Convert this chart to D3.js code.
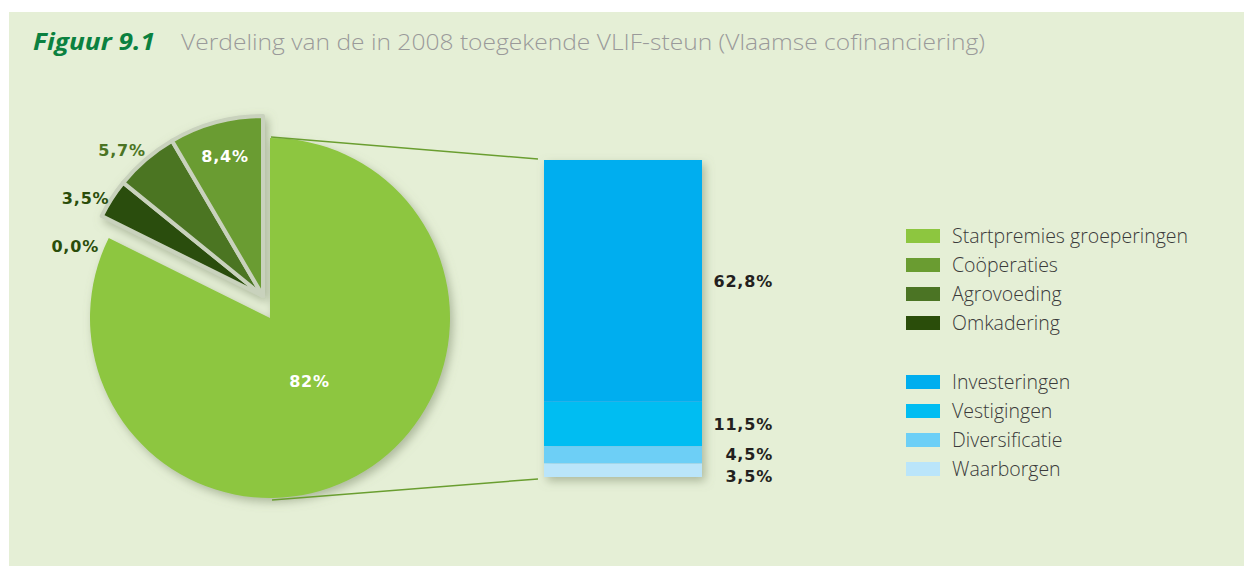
<!DOCTYPE html>
<html>
<head>
<meta charset="utf-8">
<script src="https://cdn.jsdelivr.net/npm/d3@7"></script>
<style>
  body { margin: 0; background: #fff; }
  svg { display: block; }
</style>
</head>
<body>
<svg id="chart" width="1244" height="567"></svg>
<script>
// pie: VLIF-steun per type
let pieNames = ["Startpremies groeperingen", "", "Omkadering", "Agrovoeding", "Coöperaties"];
let pieValues = [82, 0.0, 3.5, 5.7, 8.4];
let pieLabels = ["82%", "0,0%", "3,5%", "5,7%", "8,4%"];
let pieColors = ["#8dc63f", "#2a4d0a", "#2a4d0a", "#4b7424", "#6a9c31"];

// stacked bar: breakdown of the big slice
let barNames = ["Investeringen", "Vestigingen", "Diversificatie", "Waarborgen"];
let barValues = [62.8, 11.5, 4.5, 3.5];
let barLabels = ["62,8%", "11,5%", "4,5%", "3,5%"];
let barColors = ["#00aeef", "#00bdf2", "#6dcff6", "#bae5fa"];

let legendNames = ["Startpremies groeperingen", "Coöperaties", "Agrovoeding", "Omkadering"];
let legendColors = ["#8dc63f", "#6a9c31", "#4b7424", "#2a4d0a"];

let svg = d3.select("#chart");

let defs = svg.append("defs");
let shadow = defs.append("filter").attr("id", "shadow")
    .attr("x", "-20%").attr("y", "-20%").attr("width", "140%").attr("height", "140%");
shadow.append("feDropShadow")
    .attr("dx", 3).attr("dy", 4).attr("stdDeviation", 5)
    .attr("flood-color", "#7d8a6c").attr("flood-opacity", 0.55);

// panel
svg.append("rect")
    .attr("x", 9).attr("y", 12).attr("width", 1235).attr("height", 554)
    .attr("fill", "#e5efd6");

// title
svg.append("text")
    .attr("x", 33).attr("y", 50)
    .attr("fill", "#0b8140")
    .attr("textLength", 122)
    .attr("lengthAdjust", "spacingAndGlyphs")
    .style("font-family", "'Open Sans', sans-serif")
    .style("font-size", "23px")
    .style("font-weight", "bold")
    .style("font-style", "italic")
    .text("Figuur 9.1");
svg.append("text")
    .attr("x", 181).attr("y", 50)
    .attr("fill", "#9a9a9a")
    .attr("textLength", 804)
    .attr("lengthAdjust", "spacingAndGlyphs")
    .style("font-family", "'Open Sans', sans-serif")
    .style("font-size", "22px")
    .style("font-weight", 300)
    .text("Verdeling van de in 2008 toegekende VLIF-steun (Vlaamse cofinanciering)");

// pie
let cx = 270, cy = 318, r = 180;
let pie = d3.pie().sort(null).value(d => d);
let arcs = pie(pieValues);
let arc = d3.arc().innerRadius(0).outerRadius(r);
let smallOffset = [-7, -22];

let g = svg.append("g").attr("filter", "url(#shadow)");

arcs.forEach((a, i) => {
    let big = i === 0;
    let tx = big ? cx : cx + smallOffset[0];
    let ty = big ? cy : cy + smallOffset[1];
    if (a.value > 0) {
        g.append("path")
            .attr("transform", "translate(" + tx + "," + ty + ")")
            .attr("d", arc(a))
            .attr("fill", pieColors[i])
            .attr("stroke", big ? "none" : "#c9d2bd")
            .attr("stroke-width", big ? 0 : 4)
            .attr("stroke-linejoin", "round");
    }
});

// pie labels
let numFont = "'DejaVu Sans', Verdana, sans-serif";
let lastY = -Infinity;
arcs.slice().reverse().forEach((a) => {
    let i = arcs.indexOf(a);
    let mid = (a.startAngle + a.endAngle) / 2;
    let x, y, anchor, fill;
    if (i === 0) {
        let c = d3.arc().innerRadius(0).outerRadius(150).centroid(a);
        x = cx + c[0]; y = cy + c[1]; anchor = "middle"; fill = "#fff";
    } else if (i === arcs.length - 1) {
        x = cx + smallOffset[0] + Math.sin(mid) * 145;
        y = cy + smallOffset[1] - Math.cos(mid) * 145;
        anchor = "middle"; fill = "#fff";
    } else {
        x = cx + smallOffset[0] + Math.sin(mid) * 192 + 8;
        y = cy + smallOffset[1] - Math.cos(mid) * 192;
        anchor = "end"; fill = pieColors[i];
        if (i === 3) fill = "#4b7424";
        if (y < lastY + 48) y = lastY + 48;
        lastY = y;
    }
    svg.append("text")
        .attr("x", x).attr("y", y)
        .attr("dy", "0.35em")
        .attr("text-anchor", anchor)
        .attr("fill", fill)
        .style("font-family", numFont)
        .style("font-weight", "bold")
        .style("font-size", "16px")
        .style("letter-spacing", "0.8px")
        .text(pieLabels[i]);
});

// stacked bar
let total = d3.sum(barValues);
let x = d3.scaleBand().domain(["VLIF"]).range([544, 702]).padding(0);
let y = d3.scaleLinear().domain([0, total]).range([477, 160]);

let stack = [];
let acc = total;
barValues.forEach((v, i) => {
    stack.push({ top: acc, bottom: acc - v, i: i });
    acc -= v;
});

// connector lines
svg.append("line")
    .attr("x1", cx + 1).attr("y1", cy - r - 1)
    .attr("x2", x("VLIF") - 6).attr("y2", y(total) - 1)
    .attr("stroke", "#6a9e30").attr("stroke-width", 1.5);
svg.append("line")
    .attr("x1", cx + 2).attr("y1", cy + r + 2)
    .attr("x2", x("VLIF") - 6).attr("y2", y(0) + 2)
    .attr("stroke", "#6a9e30").attr("stroke-width", 1.5);

let bars = svg.append("g").attr("filter", "url(#shadow)");
bars.selectAll(".seg")
    .data(stack)
    .enter()
    .append("rect")
    .attr("class", "seg")
    .attr("x", x("VLIF"))
    .attr("width", x.bandwidth())
    .attr("y", d => y(d.top))
    .attr("height", d => y(d.bottom) - y(d.top))
    .attr("fill", d => barColors[d.i]);

let prevY = -Infinity;
stack.forEach(d => {
    let ly = (y(d.top) + y(d.bottom)) / 2;
    if (ly < prevY + 22) ly = prevY + 22;
    prevY = ly;
    svg.append("text")
        .attr("x", 773).attr("y", ly)
        .attr("dy", "0.35em")
        .attr("text-anchor", "end")
        .attr("fill", "#231f20")
        .style("font-family", numFont)
        .style("font-weight", "bold")
        .style("font-size", "16px")
        .style("letter-spacing", "0.8px")
        .text(barLabels[d.i]);
});

// legend
let legendItems = legendNames.map((n, i) => ({ name: n, color: legendColors[i], y: 236 + i * 29 }))
    .concat(barNames.map((n, i) => ({ name: n, color: barColors[i], y: 382 + i * 29 })));

let leg = svg.append("g").selectAll("g")
    .data(legendItems)
    .enter()
    .append("g")
    .attr("transform", d => "translate(906," + d.y + ")");
leg.append("rect")
    .attr("x", 0).attr("y", -7)
    .attr("width", 34).attr("height", 14)
    .attr("fill", d => d.color);
leg.append("text")
    .attr("x", 46).attr("y", 0)
    .attr("dy", "0.35em")
    .attr("fill", "#3a3a3a")
    .style("font-family", "'Open Sans', sans-serif")
    .style("font-weight", 300)
    .style("font-size", "19.5px")
    .text(d => d.name);
</script>
</body>
</html>
